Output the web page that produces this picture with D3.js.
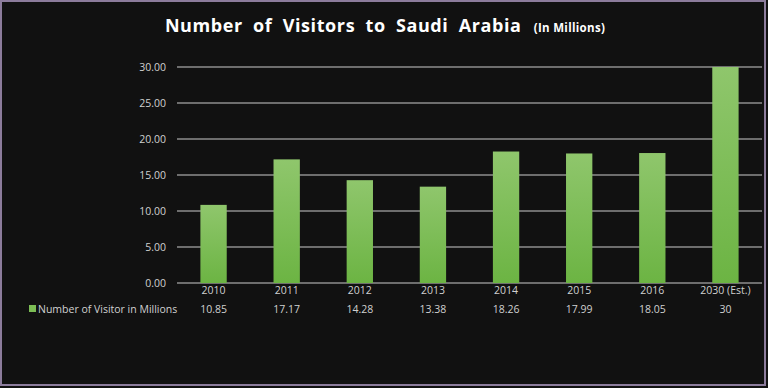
<!DOCTYPE html>
<html><head><meta charset="utf-8">
<script src="https://cdn.jsdelivr.net/npm/d3@7"></script>
<style>body{margin:0;background:#fff;}svg{display:block;}</style>
</head><body>
<script>
const categories = ["2010","2011","2012","2013","2014","2015","2016","2030 (Est.)"];
const values = [10.85,17.17,14.28,13.38,18.26,17.99,18.05,30];
const valueLabels = ["10.85","17.17","14.28","13.38","18.26","17.99","18.05","30"];
const yTicks = [0,5,10,15,20,25,30];
const seriesName = "Number of Visitor in Millions";

const W = 768, H = 388;
const svg = d3.select("body").append("svg").attr("width", W).attr("height", H);
const defs = svg.append("defs");
const g = defs.append("linearGradient").attr("id","barg").attr("x1",0).attr("y1",0).attr("x2",0).attr("y2",1);
g.append("stop").attr("offset","0%").attr("stop-color","#8fc66c");
g.append("stop").attr("offset","100%").attr("stop-color","#6cb443");

svg.append("rect").attr("x",0).attr("y",0).attr("width",W).attr("height",H).attr("fill","#111111");
svg.append("rect").attr("x",1).attr("y",1).attr("width",W-4).attr("height",H-4)
  .attr("fill","none").attr("stroke","#8c7c9c").attr("stroke-width",2);

const x = d3.scaleBand().domain(categories).range([177,762]).paddingInner(0.64).paddingOuter(0.32);
const y = d3.scaleLinear().domain([0,30]).range([283,67]);

// gridlines
svg.append("g").selectAll("line").data(yTicks).join("line")
  .attr("x1",177).attr("x2",762).attr("y1",d=>y(d)).attr("y2",d=>y(d))
  .attr("stroke","#6e6e6e").attr("stroke-width",2);

// y axis labels
const yAxis = d3.axisLeft(y).tickValues(yTicks).tickFormat(d3.format(".2f")).tickSize(0).tickPadding(0);
const ya = svg.append("g").attr("transform","translate(166,0)").call(yAxis);
ya.select(".domain").remove();
ya.selectAll("text").attr("fill","#d0d0d0").attr("font-family","'Open Sans', sans-serif").attr("font-size",10.5).attr("dy","0.35em");

// bars
svg.append("g").selectAll("rect").data(values).join("rect")
  .attr("x",(d,i)=>x(categories[i])).attr("width",x.bandwidth())
  .attr("y",d=>y(d)).attr("height",d=>y(0)-y(d)).attr("fill","url(#barg)");

// category labels
const xa = d3.axisBottom(x).tickSize(0).tickPadding(0);
const xg = svg.append("g").attr("transform","translate(0,287)").call(xa);
xg.select(".domain").remove();
xg.selectAll("text").attr("fill","#d0d0d0").attr("font-family","'Open Sans', sans-serif").attr("font-size",10.5).attr("dy","0.71em");

// data table values
svg.append("g").selectAll("text").data(valueLabels).join("text")
  .attr("x",(d,i)=>x(categories[i])+x.bandwidth()/2).attr("y",313)
  .attr("text-anchor","middle").attr("fill","#d0d0d0")
  .attr("font-family","'Open Sans', sans-serif").attr("font-size",10.5).text(d=>d);

// legend
svg.append("rect").attr("x",29).attr("y",305).attr("width",7).attr("height",7).attr("fill","#7cbd55");
svg.append("text").attr("x",38).attr("y",313).attr("fill","#d0d0d0")
  .attr("font-family","'Open Sans', sans-serif").attr("font-size",10.5).text(seriesName);

// title
const t = svg.append("text").attr("x",385).attr("y",32).attr("text-anchor","middle")
  .attr("fill","#ffffff").attr("font-family","'Open Sans', sans-serif");
t.append("tspan").attr("font-size",18).attr("font-weight","bold").attr("word-spacing",5).attr("letter-spacing",0.6).text("Number of Visitors to Saudi Arabia ");
t.append("tspan").attr("font-size",11.5).attr("font-weight","bold").attr("dx",2).attr("letter-spacing",0.3).text("(In Millions)");
</script>
</body></html>
